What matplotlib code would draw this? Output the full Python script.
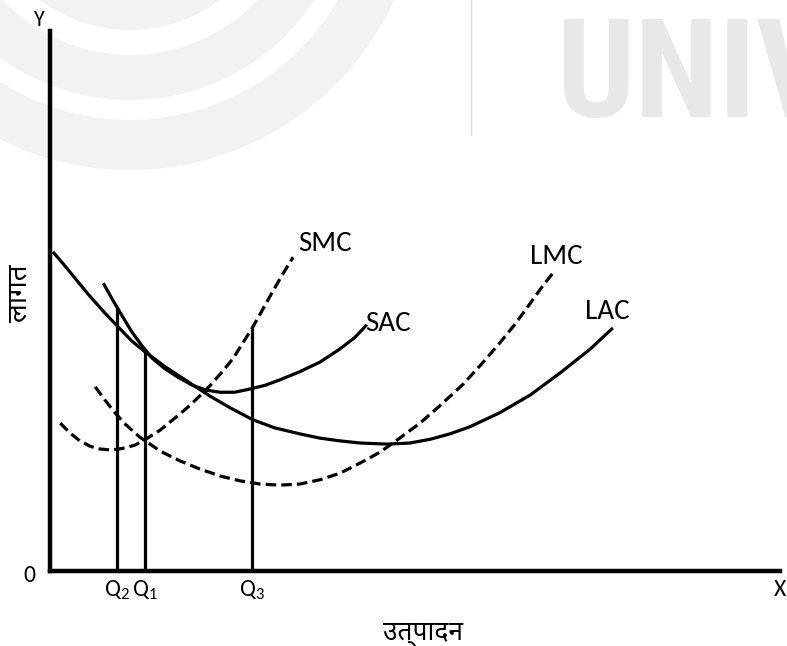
import matplotlib
matplotlib.use("Agg")
import matplotlib.pyplot as plt
from matplotlib import font_manager
from matplotlib.patches import Wedge, Circle

# cost curves: quantity (x) and cost (y) in arbitrary units
lac_q = [0.04, 0.18, 0.32, 0.52, 0.75, 0.92, 1.12, 1.30, 1.58, 1.85, 2.19, 2.47,
         2.78, 3.08, 3.42, 3.70, 3.97, 4.25, 4.62, 4.93, 5.21, 5.48, 5.75, 6.16,
         6.58, 6.99, 7.40, 7.71]
lac_c = [5.91, 5.69, 5.46, 5.13, 4.78, 4.54, 4.26, 4.06, 3.78, 3.54, 3.24, 3.02,
         2.80, 2.65, 2.54, 2.46, 2.41, 2.37, 2.35, 2.37, 2.44, 2.54, 2.67, 2.93,
         3.26, 3.67, 4.11, 4.50]

sac_q = [0.73, 0.85, 0.99, 1.12, 1.26, 1.40, 1.56, 1.75, 1.95, 2.14, 2.33, 2.53,
         2.74, 2.95, 3.15, 3.42, 3.70, 3.97, 4.18, 4.34]
sac_c = [5.33, 5.04, 4.72, 4.43, 4.17, 3.94, 3.76, 3.59, 3.44, 3.35, 3.31, 3.31,
         3.37, 3.44, 3.54, 3.69, 3.87, 4.11, 4.33, 4.56]

smc_q = [0.14, 0.27, 0.41, 0.55, 0.68, 0.85, 1.03, 1.16, 1.30, 1.51, 1.71, 1.92,
         2.05, 2.19, 2.36, 2.51, 2.64, 2.77, 2.90, 3.04, 3.18, 3.33]
smc_c = [2.74, 2.56, 2.41, 2.31, 2.26, 2.24, 2.28, 2.33, 2.43, 2.61, 2.83, 3.07,
         3.24, 3.43, 3.69, 3.94, 4.22, 4.50, 4.81, 5.15, 5.48, 5.81]

lmc_q = [0.62, 0.75, 0.89, 1.03, 1.23, 1.51, 1.78, 2.05, 2.33, 2.60, 2.88, 3.15,
         3.42, 3.70, 3.97, 4.25, 4.52, 4.79, 5.07, 5.34, 5.66, 5.89, 6.16, 6.37,
         6.58, 6.75, 6.92]
lmc_c = [3.41, 3.17, 2.93, 2.72, 2.48, 2.22, 2.04, 1.89, 1.76, 1.67, 1.61, 1.59,
         1.61, 1.69, 1.81, 2.00, 2.20, 2.46, 2.74, 3.06, 3.46, 3.80, 4.22, 4.57,
         4.96, 5.28, 5.57]

# output levels marked on the x axis and the cost reached at each
q_names = ["Q$_2$", "Q$_1$", "Q$_3$"]
q_vals = [0.92, 1.30, 2.77]
q_tops = [4.88, 4.08, 4.50]

curve_names = ["SMC", "SAC", "LMC", "LAC"]
name_pos = [(3.40, 6.07), (4.32, 4.59), (6.58, 5.83), (7.33, 4.80)]


def pick(families):
    have = {f.name for f in font_manager.fontManager.ttflist}
    for fam in families:
        if fam in have:
            return fam
    return "DejaVu Sans"


latin = pick(["Carlito", "Open Sans", "Noto Sans"])
deva = pick(["Noto Sans Devanagari", "Hind", "Mukta", "Anek Devanagari"])
cond = pick(["Roboto Condensed", "Archivo Narrow", "Oswald", "Liberation Sans Narrow"])

plt.rcParams["font.family"] = [latin, "DejaVu Sans"]
plt.rcParams["mathtext.fontset"] = "custom"
plt.rcParams["mathtext.rm"] = latin
plt.rcParams["mathtext.it"] = latin

W, H = 787, 646
fig = plt.figure(figsize=(W / 100, H / 100), dpi=100)

# faint logo in the background, laid out in pixels
bg = fig.add_axes([0, 0, 1, 1])
bg.set_xlim(0, W)
bg.set_ylim(H, 0)
bg.axis("off")
grey = "#f2f2f2"
bg.add_patch(Circle((130, -120), 150, color=grey, lw=0))
bg.add_patch(Wedge((130, -120), 220, 0, 360, width=45, color=grey, lw=0))
bg.add_patch(Wedge((130, -120), 290, 0, 360, width=50, color=grey, lw=0))
bg.plot([471, 471], [0, 135], color="#dedede", lw=1)
bg.text(557, 117, "UNIV", fontsize=99, family=cond, weight="bold",
        color="#e8e8e8", va="baseline", ha="left")

# main diagram; x 0..10 spans 730 px, y 0..10 spans 540 px
ax = fig.add_axes([50 / W, (H - 571) / H, 730 / W, 540 / H])
ax.patch.set_alpha(0)
ax.set_xlim(0, 10)
ax.set_ylim(0, 10)
for s in ["top", "right"]:
    ax.spines[s].set_visible(False)
for s in ["left", "bottom"]:
    ax.spines[s].set_linewidth(3.2)
    ax.spines[s].set_color("black")
ax.set_xticks([])
ax.set_yticks([])

lw = 2.3
ax.plot(lac_q, lac_c, color="black", lw=lw, solid_joinstyle="round",
        solid_capstyle="butt")
ax.plot(sac_q, sac_c, color="black", lw=lw, solid_joinstyle="round",
        solid_capstyle="butt")
ax.plot(smc_q, smc_c, color="black", lw=lw, dashes=(3.3, 1.6))
ax.plot(lmc_q, lmc_c, color="black", lw=lw, dashes=(3.3, 1.6))

for q, top, name in zip(q_vals, q_tops, q_names):
    ax.plot([q, q], [0, top], color="black", lw=lw, solid_capstyle="butt")
    ax.text(q, -0.35, name, ha="center", va="center", fontsize=17)

for name, (x, y) in zip(curve_names, name_pos):
    ax.text(x, y, name, fontsize=21, ha="left", va="center")

# axis letters and titles
fig.text(29 / W, 1 - 575 / H, "0", fontsize=17, ha="center", va="center")
fig.text(774 / W, 1 - 590 / H, "X", fontsize=17, ha="left", va="center")
fig.text(38 / W, 1 - 20 / H, "Y", fontsize=16, ha="center", va="center")
fig.text(20 / W, 1 - 293 / H, "लागत", fontsize=20, family=deva, rotation=90,
         ha="center", va="center")
fig.text(423 / W, 1 - 632 / H, "उत्पादन", fontsize=19, family=deva,
         ha="center", va="center")

fig.savefig("out.png", dpi=100)
